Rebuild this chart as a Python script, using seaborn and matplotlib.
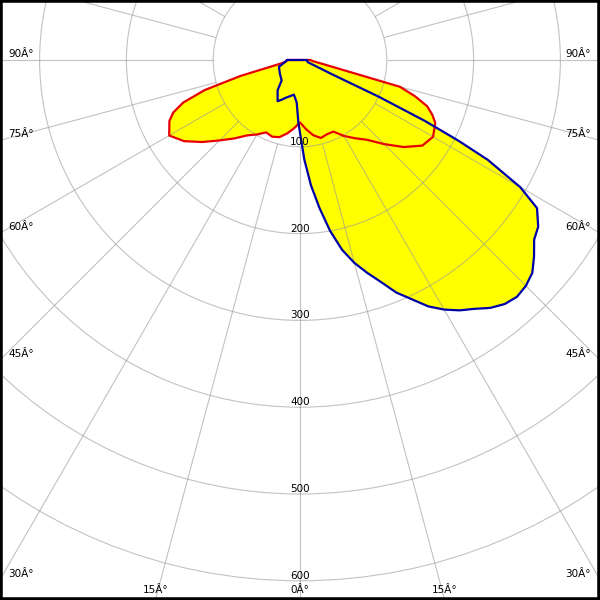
import numpy as np
import matplotlib
matplotlib.use("Agg")
import matplotlib.pyplot as plt
import seaborn as sns
from matplotlib.patches import Rectangle

# Luminous intensity (cd/klm), gamma in degrees from nadir
# C-plane drawn in red: same angles both sides
red_gamma = [0, 5, 10, 15, 20, 25, 30, 35, 40, 45, 50, 55, 60, 65, 67.5, 70, 72.5, 75, 80, 85, 90]
red_left = [72, 79, 86, 92, 94, 92, 99, 106, 118, 131, 147, 163, 174, 166, 158, 143, 115, 71, 21, 16, 14]
red_right = [72, 80, 88, 93, 91, 91, 101, 110, 120, 137, 156, 172, 177, 172, 165, 156, 139, 119, 27, 15, 12]

# C-plane drawn in blue
blue_left_gamma = [0, 1.5, 2.5, 4.5, 10, 15, 20, 25, 28.5, 36.5, 42, 56, 72, 82, 90]
blue_left = [84, 72, 62, 49, 40.5, 43, 46, 50.6, 54, 43.4, 31.6, 28, 25.5, 17.5, 15]
blue_right_gamma = [0, 2.5, 5, 7.5, 10, 12.5, 15, 17.5, 20, 22.5, 25, 27.5, 30, 32.5,
                    35, 37.5, 40, 42.5, 45, 47.5, 50, 52.5, 55, 58,
                    60, 62, 63, 64, 65, 66, 75, 90]
blue_right = [84, 115, 145, 172, 200, 224, 242, 257, 272, 290, 304, 320, 332, 342,
              350, 360, 367, 370, 368, 363, 352, 340, 335, 322,
              293, 245, 205, 160, 100, 40, 9, 8]

rings = [100, 200, 300, 400, 500, 600]
angle_labels = [0, 15, 30, 45, 60, 75, 90]

# figure geometry (pixels)
W = 600
CX, CY = 300, 60          # pole position, from top-left
PX = 0.868                # pixels per cd/klm
RMAX = 720
GRID = dict(color="#9a9a9a", lw=0.8, alpha=0.6)

sns.set_style("white")
plt.rcParams["font.family"] = ["DejaVu Sans"]

fig = plt.figure(figsize=(6, 6), dpi=100, facecolor="white")
R = RMAX * PX
ax = fig.add_axes([(CX - R) / W, (W - CY - R) / W, 2 * R / W, 2 * R / W],
                  projection="polar")
ax.set_theta_zero_location("S")
ax.set_theta_direction(1)


def curve(gl, vl, gr, vr):
    th = np.concatenate([-np.array(gl[::-1], float), np.array(gr[1:], float)])
    r = np.concatenate([np.array(vl[::-1], float), np.array(vr[1:], float)])
    th = np.append(th, th[0])
    r = np.append(r, r[0])
    return np.deg2rad(th), r


red_th, red_r = curve(red_gamma, red_left, red_gamma, red_right)
blue_th, blue_r = curve(blue_left_gamma, blue_left, blue_right_gamma, blue_right)

ax.fill(red_th, red_r, color="#ffff00", lw=0, zorder=1)
ax.fill(blue_th, blue_r, color="#ffff00", lw=0, zorder=1)
sns.lineplot(x=red_th, y=red_r, sort=False, estimator=None, ax=ax,
             color="#e60000", lw=1.6, zorder=3)
sns.lineplot(x=blue_th, y=blue_r, sort=False, estimator=None, ax=ax,
             color="#0000a8", lw=1.6, zorder=4)

ax.set_thetagrids(np.arange(0, 360, 15), labels=[])
ax.set_rgrids(rings, labels=[])
ax.set_xlabel("")
ax.set_ylabel("")
ax.spines["polar"].set_visible(False)
ax.patch.set_facecolor("none")
ax.set_axisbelow("line")
ax.xaxis.grid(False)
ax.yaxis.grid(True, **GRID)
ax.tick_params(length=0)
# spokes start at the first ring
ax.vlines(np.deg2rad(np.arange(0, 360, 15)), rings[0], RMAX, zorder=1.5, **GRID)
ax.set_rlim(0, RMAX)

# intensity labels along the nadir line
for r in rings:
    ax.text(0, r, str(r), ha="center", va="bottom", fontsize=7.5, color="black", zorder=6)

# angle labels where the radial lines meet the frame
for g in angle_labels:
    for side in ([1] if g == 0 else [-1, 1]):
        dx = side * np.sin(np.deg2rad(g))
        dy = np.cos(np.deg2rad(g))
        t_side = CX / abs(dx) if abs(dx) > 1e-9 else np.inf
        t_bot = (W - CY) / dy if dy > 1e-9 else np.inf
        label = f"{g}Â°"
        if t_side <= t_bot:
            y_hit = CY + dy * t_side
            x_txt = 8 if side < 0 else 591
            fig.text(x_txt / W, (W - y_hit + 1) / W, label, color="black",
                     ha="left" if side < 0 else "right", va="bottom", fontsize=7.5)
        else:
            x_hit = CX + dx * t_bot
            fig.text(x_hit / W, 5 / W, label, color="black",
                     ha="center", va="bottom", fontsize=7.5)

fig.add_artist(Rectangle((0, 0), 1, 1, transform=fig.transFigure, fill=False,
                         ec="black", lw=4, zorder=10))

fig.savefig("out.png", dpi=100)
plt.close(fig)
